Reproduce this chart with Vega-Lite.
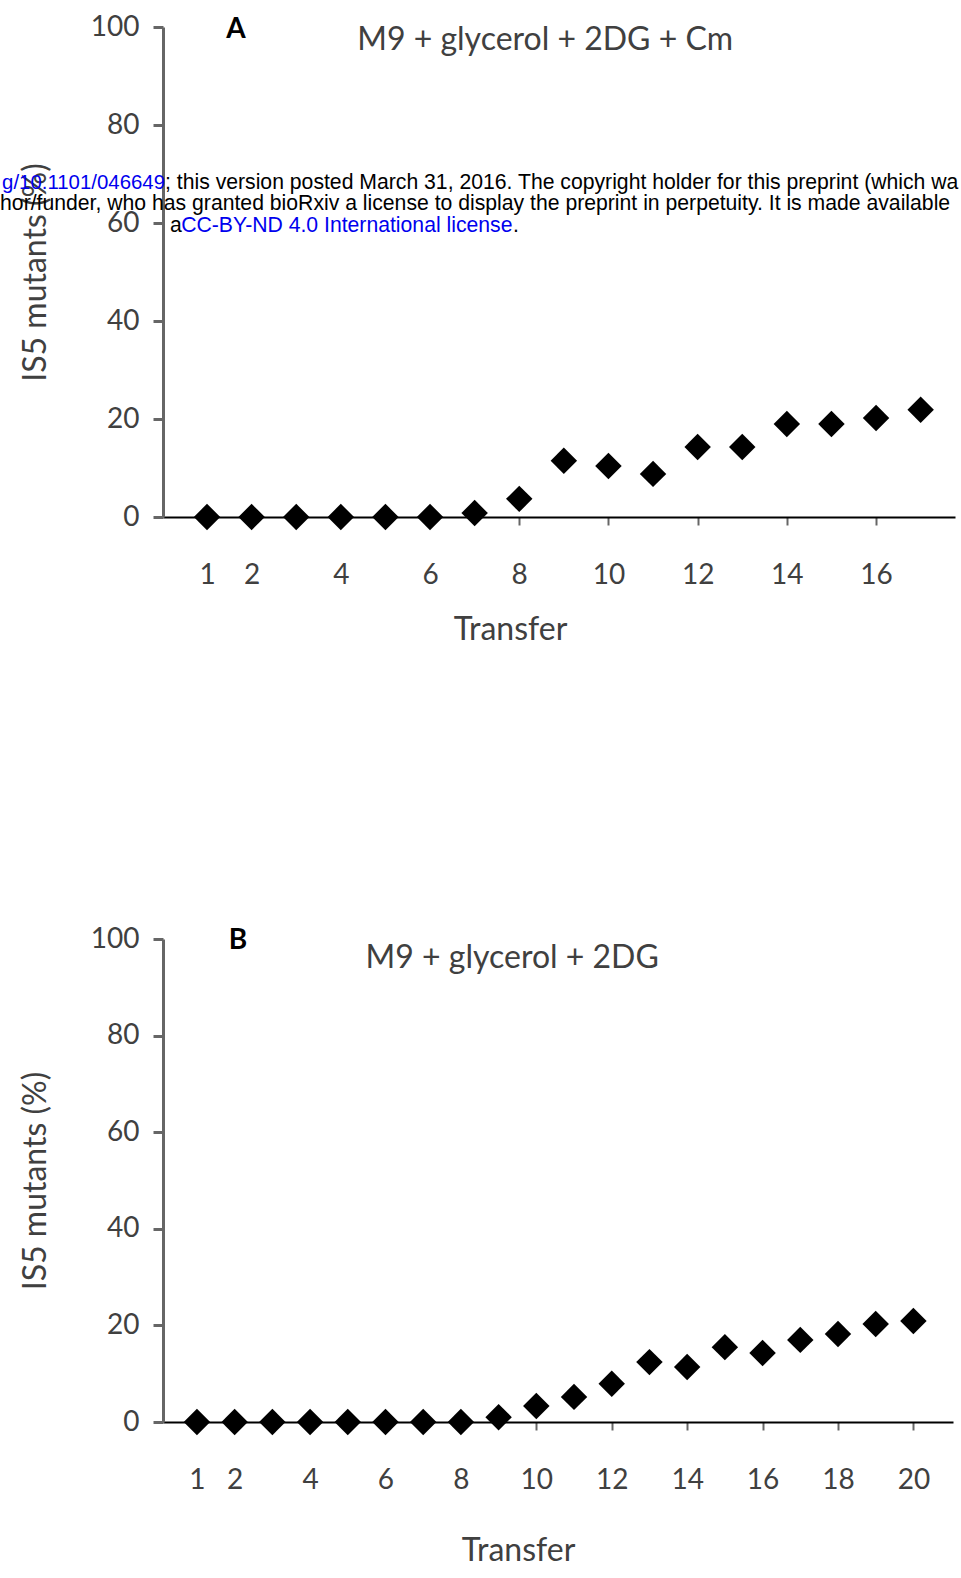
{
  "$schema": "https://vega.github.io/schema/vega-lite/v6.json",
  "background": "white",
  "padding": {"left": 0, "top": 13, "right": 0, "bottom": 0},
  "bounds": "flush",
  "spacing": 422,
  "config": {
    "view": {"stroke": null},
    "font": "Lato",
    "axis": {"grid": false}
  },
  "vconcat": [
    {
      "width": 792,
      "height": 490,
      "layer": [
        {
          "data": {"values": [
            {"transfer": 1, "pct": 0}, {"transfer": 2, "pct": 0}, {"transfer": 3, "pct": 0},
            {"transfer": 4, "pct": 0}, {"transfer": 5, "pct": 0}, {"transfer": 6, "pct": 0},
            {"transfer": 7, "pct": 0.8}, {"transfer": 8, "pct": 3.7}, {"transfer": 9, "pct": 11.5},
            {"transfer": 10, "pct": 10.4}, {"transfer": 11, "pct": 8.8}, {"transfer": 12, "pct": 14.3},
            {"transfer": 13, "pct": 14.3}, {"transfer": 14, "pct": 19}, {"transfer": 15, "pct": 19},
            {"transfer": 16, "pct": 20.2}, {"transfer": 17, "pct": 21.9}
          ]},
          "mark": {"type": "point", "shape": "diamond", "filled": true, "color": "black", "opacity": 1, "size": 700},
          "encoding": {
            "x": {"field": "transfer", "type": "quantitative",
              "scale": {"domain": [0.013, 17.77], "nice": false, "zero": false},
              "axis": {"title": "Transfer", "values": [1, 2, 4, 6, 8, 10, 12, 14, 16],
                "labelFontSize": 28, "labelColor": "#404040", "labelPadding": 36,
                "tickSize": 8, "tickColor": "#666666", "tickWidth": 2,
                "domainColor": "black", "domainWidth": 2,
                "titleFontSize": 32, "titleFontWeight": "normal", "titleColor": "#404040",
                "titlePadding": 25, "titleX": 347}},
            "y": {"field": "pct", "type": "quantitative",
              "scale": {"domain": [0, 100], "nice": false},
              "axis": {"title": "IS5 mutants (%)", "values": [0, 20, 40, 60, 80, 100],
                "labelFontSize": 28, "labelColor": "#404040", "labelPadding": 14,
                "tickSize": 10, "tickColor": "#666666", "tickWidth": 3,
                "domainColor": "#666666", "domainWidth": 3,
                "titleFontSize": 32, "titleFontWeight": "normal", "titleColor": "#404040",
                "titlePadding": 38}}
          }
        },
        {
          "data": {"values": [{"x": 1.65, "y": 99.4, "label": "A"}]},
          "mark": {"type": "text", "fontSize": 28, "fontWeight": "bold", "color": "black", "baseline": "middle"},
          "encoding": {
            "x": {"field": "x", "type": "quantitative", "axis": {"title": "Transfer"}},
            "y": {"field": "y", "type": "quantitative", "axis": {"title": "IS5 mutants (%)"}},
            "text": {"field": "label"}
          }
        },
        {
          "data": {"values": [{"x": 8.58, "y": 97.3, "label": "M9 + glycerol + 2DG + Cm"}]},
          "mark": {"type": "text", "fontSize": 32, "color": "#404040", "baseline": "middle"},
          "encoding": {
            "x": {"field": "x", "type": "quantitative", "axis": {"title": "Transfer"}},
            "y": {"field": "y", "type": "quantitative", "axis": {"title": "IS5 mutants (%)"}},
            "text": {"field": "label"}
          }
        },
        {
          "data": {"values": [{"x": 0.058, "y": 68.2, "label": "g/10.1101/046649"}]},
          "mark": {"type": "text", "font": "Liberation Sans", "fontSize": 20.4, "color": "#0000ee", "align": "right", "baseline": "middle"},
          "encoding": {
            "x": {"field": "x", "type": "quantitative", "axis": {"title": "Transfer"}},
            "y": {"field": "y", "type": "quantitative", "axis": {"title": "IS5 mutants (%)"}},
            "text": {"field": "label"}
          }
        },
        {
          "data": {"values": [
            {"x": 0.058, "y": 68.2, "label": "; this version posted March 31, 2016. The copyright holder for this preprint (which wa"},
            {"x": -3.64, "y": 63.9, "label": "hor/funder, who has granted bioRxiv a license to display the preprint in perpetuity. It is made available"},
            {"x": 0.17, "y": 59.4, "label": "a"},
            {"x": 7.86, "y": 59.4, "label": "."}
          ]},
          "mark": {"type": "text", "font": "Liberation Sans", "fontSize": 21.2, "color": "black", "align": "left", "baseline": "middle"},
          "encoding": {
            "x": {"field": "x", "type": "quantitative", "axis": {"title": "Transfer"}},
            "y": {"field": "y", "type": "quantitative", "axis": {"title": "IS5 mutants (%)"}},
            "text": {"field": "label"}
          }
        },
        {
          "data": {"values": [{"x": 0.42, "y": 59.4, "label": "CC-BY-ND 4.0 International license"}]},
          "mark": {"type": "text", "font": "Liberation Sans", "fontSize": 21.2, "color": "#0000ee", "align": "left", "baseline": "middle"},
          "encoding": {
            "x": {"field": "x", "type": "quantitative", "axis": {"title": "Transfer"}},
            "y": {"field": "y", "type": "quantitative", "axis": {"title": "IS5 mutants (%)"}},
            "text": {"field": "label"}
          }
        }
      ]
    },
    {
      "width": 790,
      "height": 483,
      "layer": [
        {
          "data": {"values": [
            {"transfer": 1, "pct": 0}, {"transfer": 2, "pct": 0}, {"transfer": 3, "pct": 0},
            {"transfer": 4, "pct": 0}, {"transfer": 5, "pct": 0}, {"transfer": 6, "pct": 0},
            {"transfer": 7, "pct": 0}, {"transfer": 8, "pct": 0}, {"transfer": 9, "pct": 1},
            {"transfer": 10, "pct": 3.3}, {"transfer": 11, "pct": 5.2}, {"transfer": 12, "pct": 7.9},
            {"transfer": 13, "pct": 12.4}, {"transfer": 14, "pct": 11.4}, {"transfer": 15, "pct": 15.5},
            {"transfer": 16, "pct": 14.3}, {"transfer": 17, "pct": 17}, {"transfer": 18, "pct": 18.2},
            {"transfer": 19, "pct": 20.3}, {"transfer": 20, "pct": 20.9}
          ]},
          "mark": {"type": "point", "shape": "diamond", "filled": true, "color": "black", "opacity": 1, "size": 700},
          "encoding": {
            "x": {"field": "transfer", "type": "quantitative",
              "scale": {"domain": [0.1, 21.05], "nice": false, "zero": false},
              "axis": {"title": "Transfer", "values": [1, 2, 4, 6, 8, 10, 12, 14, 16, 18, 20],
                "labelFontSize": 28, "labelColor": "#404040", "labelPadding": 36,
                "tickSize": 8, "tickColor": "#666666", "tickWidth": 2,
                "domainColor": "black", "domainWidth": 2,
                "titleFontSize": 32, "titleFontWeight": "normal", "titleColor": "#404040",
                "titlePadding": 41, "titleX": 355}},
            "y": {"field": "pct", "type": "quantitative",
              "scale": {"domain": [0, 100], "nice": false},
              "axis": {"title": "IS5 mutants (%)", "values": [0, 20, 40, 60, 80, 100],
                "labelFontSize": 28, "labelColor": "#404040", "labelPadding": 14,
                "tickSize": 10, "tickColor": "#666666", "tickWidth": 3,
                "domainColor": "#666666", "domainWidth": 3,
                "titleFontSize": 32, "titleFontWeight": "normal", "titleColor": "#404040",
                "titlePadding": 38}}
          }
        },
        {
          "data": {"values": [{"x": 2.09, "y": 99.6, "label": "B"}]},
          "mark": {"type": "text", "fontSize": 28, "fontWeight": "bold", "color": "black", "baseline": "middle"},
          "encoding": {
            "x": {"field": "x", "type": "quantitative", "axis": {"title": "Transfer"}},
            "y": {"field": "y", "type": "quantitative", "axis": {"title": "IS5 mutants (%)"}},
            "text": {"field": "label"}
          }
        },
        {
          "data": {"values": [{"x": 9.36, "y": 96.1, "label": "M9 + glycerol + 2DG"}]},
          "mark": {"type": "text", "fontSize": 32, "color": "#404040", "baseline": "middle"},
          "encoding": {
            "x": {"field": "x", "type": "quantitative", "axis": {"title": "Transfer"}},
            "y": {"field": "y", "type": "quantitative", "axis": {"title": "IS5 mutants (%)"}},
            "text": {"field": "label"}
          }
        }
      ]
    }
  ]
}
